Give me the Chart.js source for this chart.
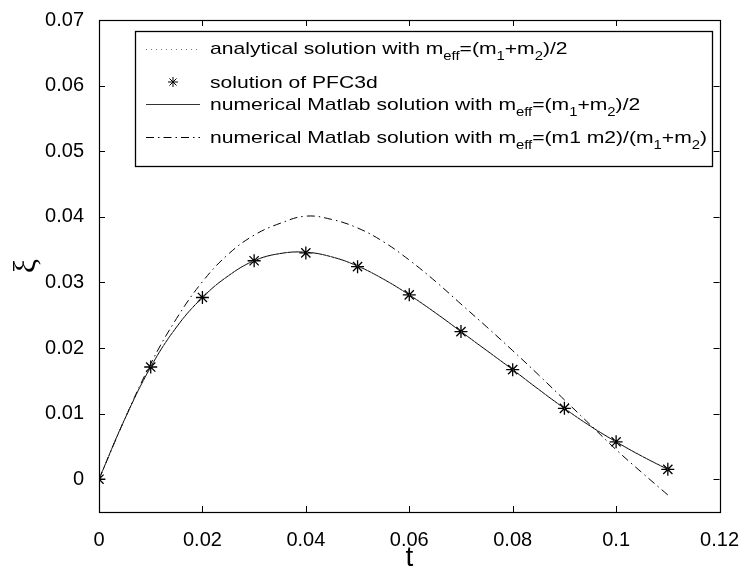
<!DOCTYPE html>
<html><head><meta charset="utf-8">
<script src="https://cdn.jsdelivr.net/npm/chart.js@4"></script>
<style>html,body{margin:0;padding:0;background:#fff}#wrap{width:747px;height:570px}</style>
</head><body><div id="wrap"><canvas id="c" width="747" height="570"></canvas></div>
<script>
// ---- data ----
const tCurve = [0,0.005,0.01,0.015,0.02,0.025,0.03,0.035,0.04,0.045,0.05,0.055,0.06,0.065,0.07,0.075,0.08,0.085,0.09,0.095,0.1,0.105,0.11];
const xiAnalytical = [0,0.0092,0.0171,0.0232,0.0277,0.0310,0.0333,0.0344,0.0346,0.0339,0.0325,0.0305,0.0281,0.0254,0.0225,0.0196,0.0167,0.0137,0.0108,0.0081,0.0057,0.0035,0.0015];
const xiNumMean    = [0,0.0092,0.0171,0.0232,0.0277,0.0310,0.0333,0.0344,0.0346,0.0339,0.0325,0.0305,0.0281,0.0254,0.0225,0.0196,0.0167,0.0137,0.0108,0.0081,0.0057,0.0035,0.0015];
const xiNumReduced = [0,0.0092,0.0176,0.0245,0.0301,0.0343,0.0372,0.0390,0.0401,0.0396,0.0383,0.0362,0.0334,0.0302,0.0267,0.0232,0.0196,0.0159,0.0121,0.0083,0.0045,0.0010,-0.0024];
const tPFC  = [0,0.01,0.02,0.03,0.04,0.05,0.06,0.07,0.08,0.09,0.1,0.11];
const xiPFC = [0,0.0171,0.0277,0.0333,0.0345,0.0324,0.0281,0.0225,0.0167,0.0108,0.0057,0.0015];

const xTicks = [0,0.02,0.04,0.06,0.08,0.1,0.12];
const xTickLabels = ['0','0.02','0.04','0.06','0.08','0.1','0.12'];
const yTicks = [0,0.01,0.02,0.03,0.04,0.05,0.06,0.07];
const yTickLabels = ['0','0.01','0.02','0.03','0.04','0.05','0.06','0.07'];
const xTitle = 't';
const yTitle = 'ξ';

// legend labels as [text, isSubscript]
const legendLabels = [
  [['analytical solution with m',0],['eff',1],['=(m',0],['1',1],['+m',0],['2',1],[')/2',0]],
  [['solution of PFC3d',0]],
  [['numerical Matlab solution with m',0],['eff',1],['=(m',0],['1',1],['+m',0],['2',1],[')/2',0]],
  [['numerical Matlab solution with m',0],['eff',1],['=(m1 m2)/(m',0],['1',1],['+m',0],['2',1],[')',0]]
];

const toXY = (xs, ys) => xs.map((x,i)=>({x:x, y:ys[i]}));

function drawStar(ctx, x, y, r){
  ctx.beginPath();
  ctx.moveTo(x-r,y); ctx.lineTo(x+r,y);
  ctx.moveTo(x,y-r); ctx.lineTo(x,y+r);
  const d = r*Math.SQRT1_2;
  ctx.moveTo(x-d,y-d); ctx.lineTo(x+d,y+d);
  ctx.moveTo(x-d,y+d); ctx.lineTo(x+d,y-d);
  ctx.stroke();
}

const framePlugin = {
  id:'frame',
  afterDraw(chart){
    const ctx = chart.ctx, a = chart.chartArea;
    const xs = chart.scales.x, ys = chart.scales.y;
    ctx.save();
    ctx.strokeStyle='#000'; ctx.lineWidth=1.2;
    ctx.strokeRect(Math.round(a.left)+0.5, Math.round(a.top)+0.5, Math.round(a.right-a.left), Math.round(a.bottom-a.top));
    ctx.lineWidth=1;
    const tl = 6;
    ctx.beginPath();
    xTicks.forEach(v=>{
      const px = Math.round(xs.getPixelForValue(v))+0.5;
      ctx.moveTo(px, a.bottom); ctx.lineTo(px, a.bottom-tl);
      ctx.moveTo(px, a.top); ctx.lineTo(px, a.top+tl);
    });
    yTicks.forEach(v=>{
      const py = Math.round(ys.getPixelForValue(v))+0.5;
      ctx.moveTo(a.left, py); ctx.lineTo(a.left+tl, py);
      ctx.moveTo(a.right, py); ctx.lineTo(a.right-tl, py);
    });
    ctx.stroke();

    // legend
    const bx=135, by=31, bw=577, bh=135;
    ctx.fillStyle='#fff'; ctx.fillRect(bx,by,bw,bh);
    ctx.lineWidth=1.3; ctx.strokeStyle='#000';
    ctx.strokeRect(bx+0.5,by+0.5,bw,bh);
    const baselines=[54,88,110,143];
    const mainFont='17px "Liberation Sans", Arial, sans-serif';
    const subFont='12px "Liberation Sans", Arial, sans-serif';
    function rowWidth(row){
      let w=0;
      row.forEach(([s,sub])=>{ctx.font = sub?subFont:mainFont; w+=ctx.measureText(s).width;});
      return w;
    }
    const sx = 497/rowWidth(legendLabels[3]);
    ctx.fillStyle='#000'; ctx.textBaseline='alphabetic'; ctx.textAlign='left';
    legendLabels.forEach((row,i)=>{
      ctx.save();
      ctx.translate(210, baselines[i]);
      ctx.scale(sx,1);
      let x=0;
      row.forEach(([s,sub])=>{
        ctx.font = sub?subFont:mainFont;
        ctx.fillText(s, x, sub?6:0);
        x += ctx.measureText(s).width;
      });
      ctx.restore();
    });
    // samples
    const sy=[49,82,104,137];
    ctx.lineWidth=1;
    ctx.strokeStyle='#777'; ctx.setLineDash([1,4]);
    ctx.beginPath(); ctx.moveTo(146,sy[0]+0.5); ctx.lineTo(200,sy[0]+0.5); ctx.stroke();
    ctx.setLineDash([]); ctx.strokeStyle='#000';
    drawStar(ctx,173,sy[1],5);
    ctx.strokeStyle='#333';
    ctx.beginPath(); ctx.moveTo(146,sy[2]+0.5); ctx.lineTo(200,sy[2]+0.5); ctx.stroke();
    ctx.strokeStyle='#000'; ctx.setLineDash([8,4,1.5,4]);
    ctx.beginPath(); ctx.moveTo(146,sy[3]+0.5); ctx.lineTo(200,sy[3]+0.5); ctx.stroke();
    ctx.restore();
  }
};

const tickFont = {family:'"Liberation Sans", Arial, sans-serif', size:20};

new Chart(document.getElementById('c'), {
  type:'line',
  data:{datasets:[
    {label:'analytical', data:toXY(tCurve,xiAnalytical), borderColor:'#888', borderWidth:1, borderDash:[1,3], pointRadius:0, tension:0.4, fill:false},
    {label:'numerical mean', data:toXY(tCurve,xiNumMean), borderColor:'#000', borderWidth:1, pointRadius:0, tension:0.4, fill:false},
    {label:'numerical reduced', data:toXY(tCurve,xiNumReduced), borderColor:'#000', borderWidth:1, borderDash:[8,4,1.5,4], pointRadius:0, tension:0.4, fill:false},
    {label:'PFC3d', data:toXY(tPFC,xiPFC), showLine:false, pointStyle:'star', pointRadius:6.5, borderColor:'#000', backgroundColor:'#000', pointBorderWidth:1.3}
  ]},
  options:{
    responsive:false, animation:false, devicePixelRatio:1,
    layout:{padding:{top:20,right:24,bottom:0,left:0}},
    plugins:{legend:{display:false}, tooltip:{enabled:false}},
    scales:{
      x:{type:'linear', min:0, max:0.12,
        afterBuildTicks:s=>{s.ticks = xTicks.map(v=>({value:v}));},
        afterFit:s=>{s.height=58;},
        grid:{display:false}, border:{display:false},
        ticks:{autoSkip:false, maxRotation:0, padding:8, color:'#000', font:tickFont, callback:(v,i)=>xTickLabels[i]},
        title:{display:true, text:xTitle, color:'#000', font:{family:'"Liberation Sans", Arial, sans-serif', size:28, lineHeight:1}, padding:{top:0,bottom:-2}}
      },
      y:{type:'linear', min:-0.005, max:0.07,
        afterBuildTicks:s=>{s.ticks = yTicks.map(v=>({value:v}));},
        afterFit:s=>{s.width=99;},
        grid:{display:false}, border:{display:false},
        ticks:{autoSkip:false, padding:7, color:'#000', font:tickFont, callback:(v,i)=>yTickLabels[i]},
        title:{display:true, text:yTitle, color:'#000', font:{family:'"Liberation Serif", "DejaVu Serif", serif', size:32, lineHeight:1}, padding:{top:11,bottom:0}}
      }
    }
  },
  plugins:[framePlugin]
});
</script>
</body></html>
